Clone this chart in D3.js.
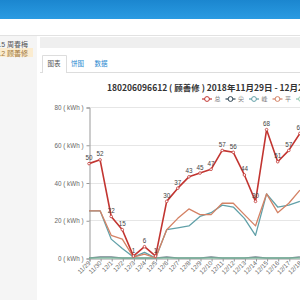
<!DOCTYPE html>
<html>
<head>
<meta charset="utf-8">
<script src="https://cdn.jsdelivr.net/npm/d3@7/dist/d3.min.js"></script>
<style>
  html, body { margin: 0; padding: 0; background: #fff; overflow: hidden; }
  svg { display: block; font-family: "Liberation Sans", "Noto Sans CJK SC", sans-serif; }
</style>
</head>
<body>
<svg id="c" width="300" height="300"></svg>
<script>
const categories = ["11/29","11/30","12/1","12/2","12/3","12/4","12/5","12/6","12/7","12/8","12/9","12/10","12/11","12/12","12/13","12/14","12/15","12/16","12/17","12/18"];
const seriesNames = ["总","尖","峰","平","谷"];
const totalValues = [50,52,22,15,1,6,1,30,37,43,45,47,57,56,44,30,68,51,57,66];
const sharpValues = [0,0.5,0.5,0,0,0,0,0.5,0,0,0,0.5,0,0,0,0.5,0,0,0,0.5];
const peakValues  = [25,25,10,5,0.5,3,0,15,16,17,22,24,28,27,21,12,34,27,28,30];
const flatValues  = [25,25,12,10,0.5,2,0,15,21,26,23,23,29,29,23,17,34,24,29,36];
const valleyValues = [0,0,0,0,0,0,0,0,0,0,0,0,0,0,0,0,0,0,0,0];
const yTicks = [0,20,40,60,80];
const sidebarItems = ["180206096615 周春梅","180206096612 顾善修"];
const tabs = ["图表","饼图","数据"];
const titleText = "180206096612 ( 顾善修 ) 2018年11月29日 - 12月29日";

const colors = ["#c23531","#2f4554","#61a0a8","#d48265","#91c7ae"];
const allSeries = [totalValues, sharpValues, peakValues, flatValues, valleyValues];

const svg = d3.select("#c");

// page chrome
const defs = svg.append("defs");
const g1 = defs.append("linearGradient").attr("id","hdr").attr("x1",0).attr("y1",0).attr("x2",0).attr("y2",1);
g1.append("stop").attr("offset","0%").attr("stop-color","#1b86cf");
g1.append("stop").attr("offset","100%").attr("stop-color","#2a9be2");
svg.append("rect").attr("x",0).attr("y",0).attr("width",300).attr("height",19).attr("fill","url(#hdr)");
svg.append("rect").attr("x",0).attr("y",35).attr("width",300).attr("height",1).attr("fill","#e2e2e2");
svg.append("rect").attr("x",0).attr("y",36).attr("width",37).attr("height",264).attr("fill","#f5f5f5");
svg.append("rect").attr("x",40).attr("y",37).attr("width",260).attr("height",11).attr("fill","#efefef");
svg.append("rect").attr("x",40).attr("y",48).attr("width",260).attr("height",252).attr("fill","#fff");
svg.append("rect").attr("x",0).attr("y",48).attr("width",33).attr("height",9).attr("fill","#fbecd0");

svg.selectAll("text.side").data(sidebarItems).join("text")
  .attr("class","side")
  .attr("x",28).attr("y",(d,i)=>47 + i*8.5)
  .attr("text-anchor","end")
  .attr("font-size",7)
  .attr("fill",(d,i)=> i===1 ? "#a0763a" : "#555")
  .text(d=>d);

// tabs
svg.append("line").attr("x1",40).attr("x2",300).attr("y1",72.5).attr("y2",72.5).attr("stroke","#ddd");
svg.append("path").attr("d","M42.5,73 V55.5 H66.5 V73").attr("fill","#fff").attr("stroke","#ddd");
svg.selectAll("text.tab").data(tabs).join("text")
  .attr("class","tab")
  .attr("x",(d,i)=>[54,77.5,101][i]).attr("y",66)
  .attr("text-anchor","middle")
  .attr("font-size",6.5)
  .attr("fill",(d,i)=> i===0 ? "#555" : "#2a8ad0")
  .text(d=>d);

// title
svg.append("text").attr("x",107).attr("y",91)
  .attr("font-size",8.5).attr("font-weight","bold").attr("fill","#333")
  .attr("font-family","'Noto Sans CJK SC', sans-serif")
  .text(titleText);

// legend
const lg = svg.selectAll("g.lg").data(seriesNames).join("g").attr("class","lg")
  .attr("transform",(d,i)=>`translate(${202 + i*23.5},99)`);
lg.append("line").attr("x1",0).attr("x2",10).attr("y1",0).attr("y2",0)
  .attr("stroke",(d,i)=>colors[i]).attr("stroke-width",1.2);
lg.append("circle").attr("cx",5).attr("cy",0).attr("r",2.4).attr("fill","#fff")
  .attr("stroke",(d,i)=>colors[i]).attr("stroke-width",1);
lg.append("text").attr("x",12.5).attr("y",2.3).attr("font-size",6).attr("fill","#777")
  .attr("font-family","'Noto Sans CJK SC', sans-serif")
  .text(d=>d);

// scales
const x = d3.scalePoint().domain(categories).range([89, 89 + 11.1*(categories.length-1)]);
const y = d3.scaleLinear().domain([0,80]).range([258,107]);

// grid
svg.append("g").selectAll("line").data(yTicks.filter(t=>t>0)).join("line")
  .attr("x1",89).attr("x2",300).attr("y1",d=>Math.round(y(d))+0.5).attr("y2",d=>Math.round(y(d))+0.5)
  .attr("stroke","#e6e6e6");

// y axis
const yAxis = svg.append("g").attr("transform","translate(89.5,0.5)")
  .call(d3.axisLeft(y).tickValues(yTicks).tickSize(3).tickFormat(d=>d + " ( kWh )"));
yAxis.select(".domain").attr("stroke","#999");
yAxis.selectAll(".tick line").attr("stroke","#999");
yAxis.selectAll("text").attr("font-size",6.3).attr("fill","#666").attr("font-family","'Liberation Sans', sans-serif");

// x axis
const xAxis = svg.append("g").attr("transform","translate(0.5,258.5)")
  .call(d3.axisBottom(x).tickSize(3));
xAxis.select(".domain").attr("stroke","#999");
xAxis.selectAll(".tick line").attr("stroke","#999");
xAxis.selectAll("text").attr("font-size",6.3).attr("fill","#666")
  .attr("font-family","'Liberation Sans', sans-serif")
  .attr("text-anchor","end").attr("dy",null).attr("y",0)
  .attr("transform","translate(1,5) rotate(-45)");

// lines
const line = d3.line().x((d,i)=>x(categories[i])).y(d=>y(d));
const drawOrder = [1,4,2,3,0];
drawOrder.forEach(si=>{
  svg.append("path").datum(allSeries[si])
    .attr("d",line).attr("fill","none")
    .attr("stroke",colors[si]).attr("stroke-width",si===0?1.6:1.3)
    .attr("stroke-linejoin","round");
});
// markers on total
svg.append("g").selectAll("circle").data(totalValues).join("circle")
  .attr("cx",(d,i)=>x(categories[i])).attr("cy",d=>y(d)).attr("r",1.3)
  .attr("fill","#fff").attr("stroke",colors[0]).attr("stroke-width",0.8);
// labels on total
svg.append("g").selectAll("text").data(totalValues).join("text")
  .attr("x",(d,i)=>x(categories[i])).attr("y",d=>y(d)-3.5)
  .attr("text-anchor","middle").attr("font-size",6.3).attr("fill","#444")
  .text(d=>d);
</script>
</body>
</html>
